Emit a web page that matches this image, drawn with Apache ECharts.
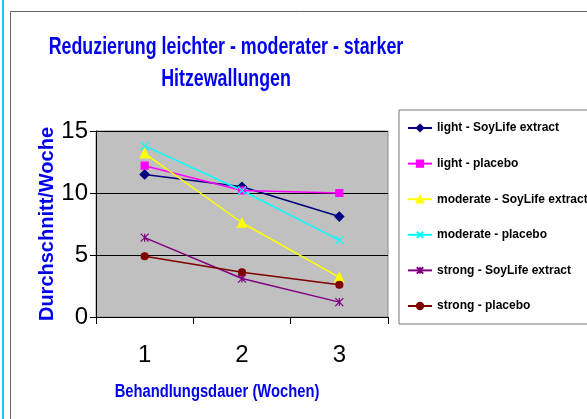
<!DOCTYPE html>
<html>
<head>
    <meta charset="utf-8"/>
    <title>Hitzewallungen</title>
    <script src="https://cdn.jsdelivr.net/npm/echarts@6/dist/echarts.min.js"></script>
    <style>
        html, body { margin: 0; padding: 0; background: #fff; }
        #main { width: 587px; height: 419px; }
    </style>
</head>
<body>
<div id="main"></div>
<script type="text/javascript">
    // Wochen (x-Achse)
    var weeks = ['1', '2', '3'];
    var yTicks = [0, 5, 10, 15];

    var seriesNames = [
        'light - SoyLife extract',
        'light - placebo',
        'moderate - SoyLife extract',
        'moderate - placebo',
        'strong - SoyLife extract',
        'strong - placebo'
    ];
    var lightSoy = [11.5, 10.5, 8.1];
    var lightPlacebo = [12.2, 10.2, 10.0];
    var moderateSoy = [13.2, 7.6, 3.2];
    var moderatePlacebo = [13.8, 10.2, 6.2];
    var strongSoy = [6.4, 3.1, 1.2];
    var strongPlacebo = [4.9, 3.6, 2.6];

    var colors = ['#000080', '#ff00ff', '#ffff00', '#00ffff', '#800080', '#800000'];
    var symbols = [
        'diamond', 'rect', 'triangle',
        'path://M0,0L10,10M10,0L0,10',
        'path://M0,0L10,10M10,0L0,10M5,0L5,10',
        'circle'
    ];
    var symbolSizes = [9, 7, 9, 8, 8, 7];
    var allData = [lightSoy, lightPlacebo, moderateSoy, moderatePlacebo, strongSoy, strongPlacebo];

    var blueFont = '"Liberation Sans", Arial';

    var chart = echarts.init(document.getElementById('main'));

    var series = [];
    for (var i = 0; i < allData.length; i++) {
        series.push({
            name: seriesNames[i],
            type: 'line',
            data: allData[i],
            symbol: symbols[i],
            symbolSize: symbolSizes[i],
            showAllSymbol: true,
            lineStyle: { color: colors[i], width: 1.5 },
            itemStyle: { color: colors[i], borderColor: colors[i], borderWidth: 1.2 }
        });
    }

    chart.setOption({
        animation: false,
        graphic: [
            { type: 'line', shape: { x1: 3, y1: 0, x2: 3, y2: 419 }, style: { stroke: '#22c4f4', lineWidth: 2 } },
            { type: 'rect', shape: { x: 10.5, y: 11.5, width: 620, height: 440 }, style: { fill: null, stroke: '#666', lineWidth: 1 } },
            // Titel (etwas schmaler gezogen wie im Original)
            {
                type: 'text', x: 226, y: 32, scaleX: 0.775,
                style: {
                    text: 'Reduzierung leichter - moderater - starker\nHitzewallungen',
                    align: 'center', verticalAlign: 'top',
                    font: 'bold 23px ' + blueFont, lineHeight: 32, fill: '#0000ee'
                }
            },
            // x-Achsentitel
            {
                type: 'text', x: 217, y: 392, scaleX: 0.82,
                style: {
                    text: 'Behandlungsdauer (Wochen)',
                    align: 'center', verticalAlign: 'middle',
                    font: 'bold 18px ' + blueFont, fill: '#0000ee'
                }
            }
        ],
        legend: {
            orient: 'vertical',
            left: 399,
            top: 110,
            padding: [12, 30, 12, 8],
            itemGap: 23.6,
            itemWidth: 24,
            itemHeight: 8,
            backgroundColor: '#fff',
            borderColor: '#777',
            borderWidth: 1,
            textStyle: {
                fontFamily: blueFont,
                fontSize: 12,
                fontWeight: 'bold',
                color: '#000'
            },
            data: seriesNames
        },
        grid: {
            left: 96,
            top: 131,
            width: 292,
            height: 186,
            show: true,
            backgroundColor: '#c0c0c0',
            borderColor: '#8a8a8a',
            borderWidth: 1
        },
        xAxis: {
            type: 'category',
            data: weeks,
            boundaryGap: true,
            axisLine: { lineStyle: { color: '#000', width: 1 } },
            axisTick: { show: true, length: 7, lineStyle: { color: '#000' } },
            axisLabel: {
                margin: 26,
                fontFamily: blueFont,
                fontSize: 24,
                color: '#000'
            }
        },
        yAxis: {
            type: 'value',
            min: yTicks[0],
            max: yTicks[yTicks.length - 1],
            interval: 5,
            name: 'Durchschnitt/Woche',
            nameLocation: 'middle',
            nameGap: 36,
            nameTextStyle: {
                fontFamily: blueFont,
                fontSize: 20,
                fontWeight: 'bold',
                color: '#0000ee'
            },
            axisLine: { show: true, lineStyle: { color: '#000', width: 1 } },
            axisTick: { show: true, length: 6, lineStyle: { color: '#000' } },
            axisLabel: {
                margin: 8,
                fontFamily: blueFont,
                fontSize: 24,
                color: '#000'
            },
            splitLine: { show: true, lineStyle: { color: '#000', width: 1 } }
        },
        series: series
    });
</script>
</body>
</html>
